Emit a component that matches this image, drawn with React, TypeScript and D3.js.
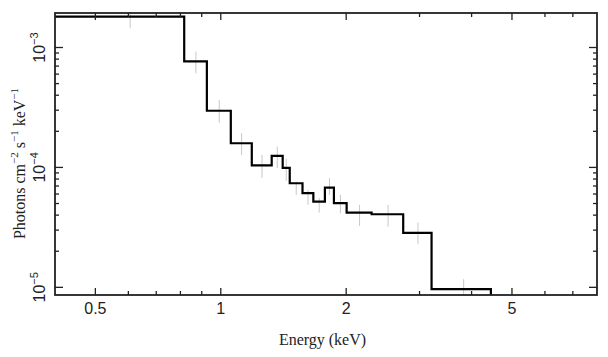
import React from "react";
import * as d3 from "d3";

// Bin edges in keV (step histogram)
const binEdges = [0.395, 0.817, 0.926, 1.057, 1.187, 1.325, 1.408, 1.464, 1.571, 1.668, 1.778, 1.869, 2.005, 2.302, 2.741, 3.206, 4.45];
// Photons cm^-2 s^-1 keV^-1 per bin
const flux = [1.81e-3, 7.67e-4, 2.97e-4, 1.59e-4, 1.04e-4, 1.25e-4, 9.9e-5, 7.38e-5, 6.1e-5, 5.19e-5, 6.79e-5, 5.03e-5, 4.2e-5, 4.07e-5, 2.84e-5, 9.66e-6];
const errHi = [2.26e-3, 9.23e-4, 3.65e-4, 1.93e-4, 1.27e-4, 1.49e-4, 1.18e-4, 7.62e-5, 6.49e-5, 5.54e-5, 8.13e-5, 5.9e-5, 4.87e-5, 4.87e-5, 3.47e-5, 1.17e-5];
const errLo = [1.45e-3, 6.1e-4, 2.36e-4, 1.27e-4, 8.17e-5, 9.85e-5, 7.72e-5, 5.9e-5, 4.87e-5, 4.2e-5, 5.9e-5, 4.15e-5, 3.25e-5, 3.21e-5, 2.29e-5, 7.87e-6];

const xMajorTicks = [0.5, 1, 2, 5];
const xMajorLabels = ["0.5", "1", "2", "5"];
const xMinorTicks = [0.6, 0.7, 0.8, 0.9, 3, 4, 6, 7];
const yMajorTicks = [1e-3, 1e-4, 1e-5];
const yMajorExps = ["−3", "−4", "−5"];
const yMinorTicks = [2e-5, 3e-5, 4e-5, 5e-5, 6e-5, 7e-5, 8e-5, 9e-5, 2e-4, 3e-4, 4e-4, 5e-4, 6e-4, 7e-4, 8e-4, 9e-4];

const xDomain = [0.4, 8];
const yDomain = [8.63e-6, 1.94e-3];

export default function App() {
  const W = 608, H = 357;
  const L = 55, R = 597, T = 13, B = 295;
  const x = d3.scaleLog().domain(xDomain).range([L, R]);
  const y = d3.scaleLog().domain(yDomain).range([B, T]);

  let d = `M${x(binEdges[0])},${y(flux[0])}`;
  for (let i = 0; i < flux.length; i++) {
    d += `H${x(binEdges[i + 1])}`;
    if (i + 1 < flux.length) d += `V${y(flux[i + 1])}`;
  }
  d += `V${B + 10}`;

  const axisColor = "#222";
  const sans = "'Liberation Sans', Arial, sans-serif";
  const serif = "'Liberation Serif', 'Times New Roman', serif";

  return (
    <svg width={W} height={H} style={{ position: "absolute", left: 0, top: 0, background: "#fff" }}>
      <defs>
        <clipPath id="plotclip">
          <rect x={L} y={T} width={R - L} height={B - T} />
        </clipPath>
      </defs>
      <g clipPath="url(#plotclip)">
        {flux.map((v, i) => {
          const c = (binEdges[i] + binEdges[i + 1]) / 2;
          return (
            <line key={i} x1={x(c)} x2={x(c)} y1={y(errHi[i])} y2={y(errLo[i])} stroke="#c8c8c8" strokeWidth={1} />
          );
        })}
        <path d={d} fill="none" stroke="#000" strokeWidth={2.2} strokeLinejoin="miter" />
      </g>
      {/* ticks */}
      <g stroke={axisColor} strokeWidth={1.3}>
        {xMajorTicks.map((t, i) => (
          <g key={"xm" + i}>
            <line x1={x(t)} x2={x(t)} y1={B} y2={B - 7} />
            <line x1={x(t)} x2={x(t)} y1={T} y2={T + 7} />
          </g>
        ))}
        {xMinorTicks.map((t, i) => (
          <g key={"xn" + i}>
            <line x1={x(t)} x2={x(t)} y1={B} y2={B - 4} />
            <line x1={x(t)} x2={x(t)} y1={T} y2={T + 4} />
          </g>
        ))}
        {yMajorTicks.map((t, i) => (
          <g key={"ym" + i}>
            <line x1={L} x2={L + 8} y1={y(t)} y2={y(t)} />
            <line x1={R} x2={R - 8} y1={y(t)} y2={y(t)} />
          </g>
        ))}
        {yMinorTicks.map((t, i) => (
          <g key={"yn" + i}>
            <line x1={L} x2={L + 4} y1={y(t)} y2={y(t)} />
            <line x1={R} x2={R - 4} y1={y(t)} y2={y(t)} />
          </g>
        ))}
      </g>
      <rect x={L} y={T} width={R - L} height={B - T} fill="none" stroke={axisColor} strokeWidth={1.8} />
      {/* x tick labels */}
      {xMajorTicks.map((t, i) => (
        <text key={"xl" + i} x={x(t)} y={313.5} textAnchor="middle" fontFamily={sans} fontSize={16} fill="#222">
          {xMajorLabels[i]}
        </text>
      ))}
      {/* y tick labels */}
      {yMajorTicks.map((t, i) => (
        <text key={"yl" + i} transform={`translate(45,${y(t)}) rotate(-90)`} textAnchor="middle" fontFamily={sans} fontSize={16} fill="#222">
          10<tspan dy={-7} fontSize={11}>{yMajorExps[i]}</tspan>
        </text>
      ))}
      {/* axis titles */}
      <text x={322.5} y={345} textAnchor="middle" fontFamily={serif} fontSize={16} fill="#222">
        Energy (keV)
      </text>
      <text transform={`translate(25,163.5) rotate(-90)`} textAnchor="middle" fontFamily={serif} fontSize={16} fill="#222">
        Photons cm<tspan dy={-7} fontSize={11}>−2</tspan>
        <tspan dy={7}> s</tspan>
        <tspan dy={-7} fontSize={11}>−1</tspan>
        <tspan dy={7}> keV</tspan>
        <tspan dy={-7} fontSize={11}>−1</tspan>
      </text>
    </svg>
  );
}
